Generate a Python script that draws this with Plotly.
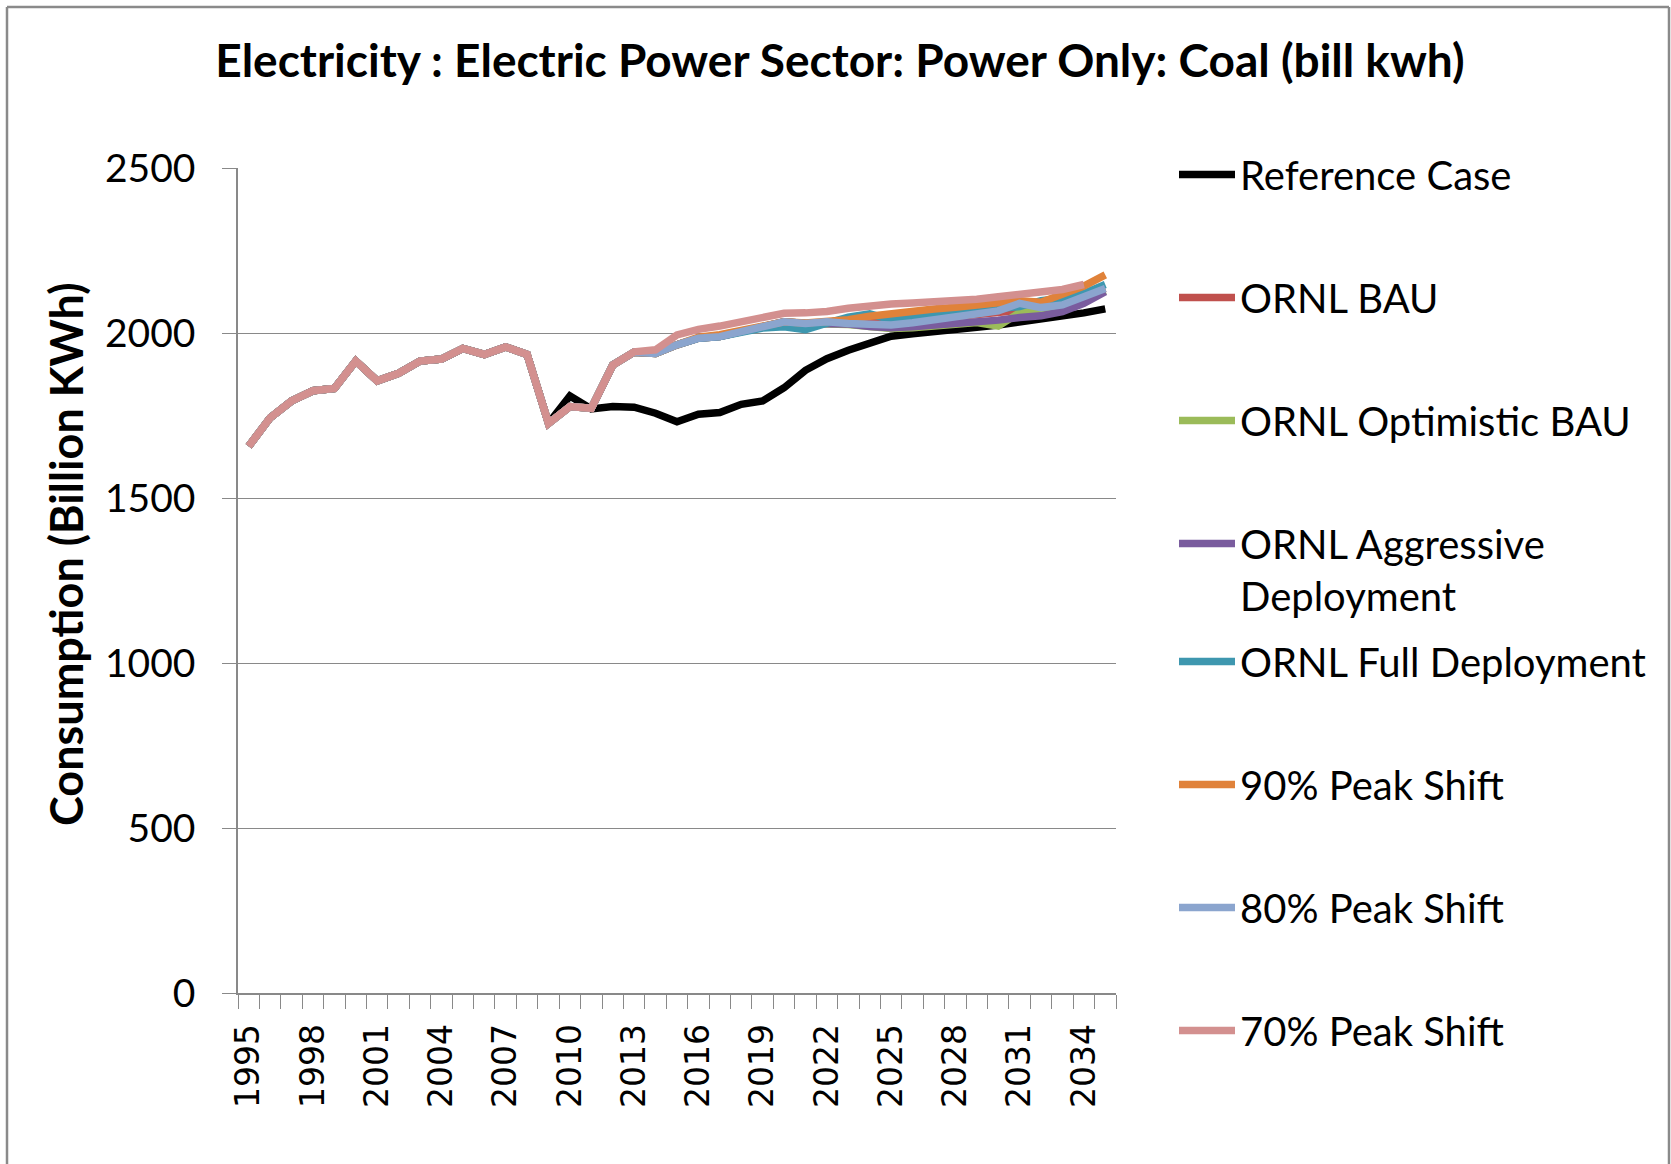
import plotly.graph_objects as go

# Coal-fired generation, electric power sector (billion kWh), 1995-2035
years = list(range(1995, 2036))

reference_case = [1657, 1743, 1794, 1825, 1832, 1915, 1855, 1878, 1915, 1921, 1953, 1935, 1958, 1935, 1726,
                  1809, 1770, 1777, 1775, 1757, 1731, 1754, 1759, 1784, 1794, 1834, 1887, 1922, 1948, 1971,
                  1990, 1998, 2003, 2009, 2017, 2024, 2032, 2041, 2051, 2061, 2073]
ornl_bau = [1657, 1743, 1794, 1825, 1832, 1915, 1855, 1878, 1915, 1921, 1953, 1935, 1958, 1935, 1726,
            1777, 1772, 1903, 1942, 1938, 1964, 1984, 1989, 2004, 2019, 2034, 2029, 2030, 2032, 2030,
            2030, 2036, 2043, 2050, 2056, 2062, 2068, 2075, 2090, 2112, 2135]
ornl_optimistic_bau = [1657, 1743, 1794, 1825, 1832, 1915, 1855, 1878, 1915, 1921, 1953, 1935, 1958, 1935, 1726,
                       1777, 1772, 1903, 1942, 1938, 1964, 1984, 1989, 2004, 2019, 2034, 2029, 2028, 2026, 2020,
                       2014, 2016, 2022, 2030, 2032, 2021, 2062, 2070, 2080, 2100, 2128]
ornl_aggressive = [1657, 1743, 1794, 1825, 1832, 1915, 1855, 1878, 1915, 1921, 1953, 1935, 1958, 1935, 1726,
                   1777, 1772, 1903, 1942, 1938, 1964, 1984, 1989, 2004, 2019, 2034, 2029, 2030, 2027, 2020,
                   2016, 2019, 2023, 2028, 2034, 2039, 2047, 2052, 2065, 2090, 2125]
ornl_full = [1657, 1743, 1794, 1825, 1832, 1915, 1855, 1878, 1915, 1921, 1953, 1935, 1958, 1935, 1726,
             1777, 1772, 1903, 1942, 1938, 1964, 1984, 1989, 2004, 2015, 2019, 2010, 2030, 2048, 2058,
             2040, 2046, 2054, 2060, 2066, 2074, 2080, 2098, 2105, 2120, 2147]
peak_shift_90 = [1657, 1743, 1794, 1825, 1832, 1915, 1855, 1878, 1915, 1921, 1953, 1935, 1958, 1935, 1726,
                 1777, 1772, 1903, 1942, 1938, 1964, 1987, 1995, 2008, 2022, 2034, 2030, 2035, 2040, 2051,
                 2060, 2068, 2073, 2078, 2083, 2090, 2098, 2093, 2115, 2142, 2176]
peak_shift_80 = [1657, 1743, 1794, 1825, 1832, 1915, 1855, 1878, 1915, 1921, 1953, 1935, 1958, 1935, 1726,
                 1777, 1772, 1903, 1942, 1938, 1964, 1984, 1989, 2004, 2019, 2034, 2029, 2034, 2029, 2024,
                 2024, 2031, 2039, 2047, 2055, 2067, 2090, 2077, 2085, 2110, 2135]
peak_shift_70 = [1657, 1743, 1794, 1825, 1832, 1915, 1855, 1878, 1915, 1921, 1953, 1935, 1958, 1935, 1726,
                 1777, 1772, 1903, 1943, 1949, 1994, 2011, 2021, 2034, 2046, 2060, 2061, 2065, 2075, 2083,
                 2088, 2091, 2093, 2097, 2102, 2110, 2117, 2120, 2132, 2147, None]

series_names = ["Reference Case", "ORNL BAU", "ORNL Optimistic BAU", "ORNL Aggressive<br>Deployment",
                "ORNL Full Deployment", "90% Peak Shift", "80% Peak Shift", "70% Peak Shift"]
series_values = [reference_case, ornl_bau, ornl_optimistic_bau, ornl_aggressive,
                 ornl_full, peak_shift_90, peak_shift_80, peak_shift_70]
series_colors = ["#000000", "#C0504D", "#9BBB59", "#7A5C9E",
                 "#3E97AF", "#E0823A", "#8BA5CE", "#D3908F"]

tick_years = list(range(1995, 2036, 3))
tick_labels = [str(y) for y in tick_years]

FONT = "Lato"
GRID = "#898989"

W, H = 1671, 1164
ML, MR, MT, MB = 238, 555, 168, 171
PW, PH = W - ML - MR, H - MT - MB


def px_x(x):
    return (x - ML) / PW


def px_y(y):
    return (H - MB - y) / PH


fig = go.Figure()
for i, (name, vals, col) in enumerate(zip(series_names, series_values, series_colors)):
    fig.add_trace(go.Scatter(
        x=years, y=vals, name=name, mode="lines",
        line=dict(color=col, width=7.5),
        legendgroup=f"g{i}",
        legend="legend" if i < 4 else "legend2",
        connectgaps=False,
    ))

legend_common = dict(
    xref="container", yref="container", xanchor="left", yanchor="top",
    font=dict(family=FONT, size=40, color="#000000"),
    itemwidth=56, tracegroupgap=68, traceorder="grouped", valign="top",
    bgcolor="rgba(0,0,0,0)", borderwidth=0,
)

fig.update_layout(
    width=W, height=H, autosize=False,
    margin=dict(l=ML, r=MR, t=MT, b=MB, pad=0),
    paper_bgcolor="#FFFFFF", plot_bgcolor="#FFFFFF",
    font=dict(family=FONT, color="#000000"),
    title=dict(
        text="<b>Electricity : Electric Power Sector: Power Only: Coal (bill kwh)</b>",
        font=dict(family=FONT, size=46, color="#000000"),
        x=840 / W, xanchor="center", xref="container",
        y=1 - 61 / H, yanchor="middle", yref="container",
    ),
    legend=dict(x=1174 / W, y=1 - 142 / H, **legend_common),
    legend2=dict(x=1174 / W, y=1 - 629 / H, **legend_common),
    xaxis=dict(
        range=[1994.5, 2035.5],
        tickmode="array", tickvals=tick_years, ticktext=tick_labels,
        tickangle=-90, ticks="", ticklabelstandoff=16,
        tickfont=dict(family="DejaVu Sans", size=33, color="#000000"),
        minor=dict(tick0=1994.5, dtick=1, ticks="outside", ticklen=14,
                   tickcolor=GRID, tickwidth=1.3, showgrid=False),
        showgrid=False, zeroline=False,
        showline=True, linecolor=GRID, linewidth=1.5,
        fixedrange=True,
    ),
    yaxis=dict(
        range=[0, 2500], tickmode="linear", tick0=0, dtick=500,
        ticks="outside", ticklen=14, tickcolor=GRID, tickwidth=1.3,
        ticklabelstandoff=19,
        tickfont=dict(family=FONT, size=39, color="#000000"),
        showgrid=True, gridcolor=GRID, gridwidth=1.3,
        zeroline=False, showline=True, linecolor=GRID, linewidth=1.5,
        fixedrange=True,
    ),
    annotations=[dict(
        text="<b>Consumption (Billion KWh)</b>", textangle=-90,
        xref="paper", yref="paper", x=px_x(66), y=px_y(554),
        xanchor="center", yanchor="middle", showarrow=False,
        font=dict(family=FONT, size=45, color="#000000"),
    )],
    shapes=[
        # chart frame (top, left, right edges)
        dict(type="line", xref="paper", yref="paper", x0=px_x(7), x1=px_x(1669), y0=px_y(7), y1=px_y(7),
             line=dict(color="#8A8A8A", width=2.5)),
        dict(type="line", xref="paper", yref="paper", x0=px_x(7), x1=px_x(7), y0=px_y(7), y1=px_y(1170),
             line=dict(color="#8A8A8A", width=2.5)),
        dict(type="line", xref="paper", yref="paper", x0=px_x(1669), x1=px_x(1669), y0=px_y(7), y1=px_y(1170),
             line=dict(color="#8A8A8A", width=2.5)),
    ],
    showlegend=True,
)

fig.write_html("out.html")
